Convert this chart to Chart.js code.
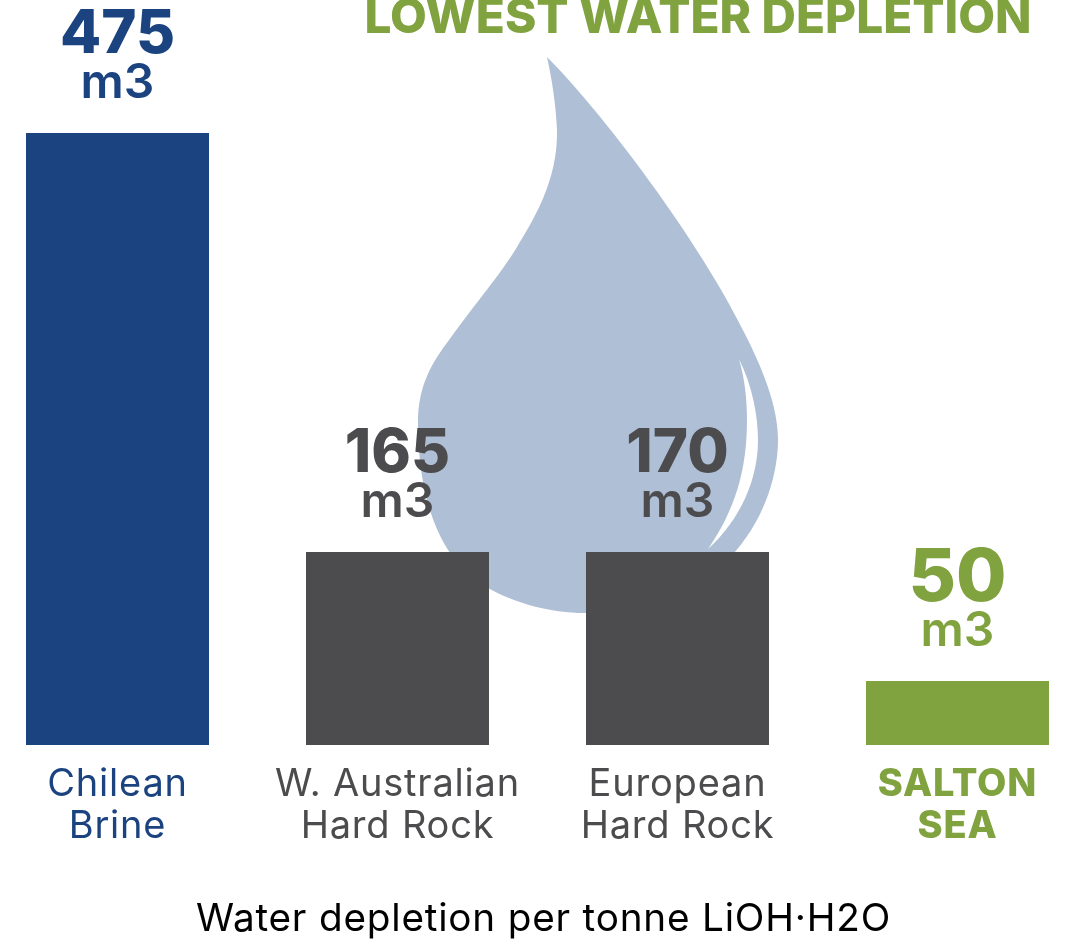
<!DOCTYPE html>
<html>
<head>
<meta charset="utf-8">
<title>Water depletion</title>
<script src="https://cdn.jsdelivr.net/npm/chart.js@4/dist/chart.umd.min.js"></script>
<style>
    html, body { margin: 0; padding: 0; background: #fff; overflow: hidden; }
    canvas { display: block; }
</style>
</head>
<body>
<canvas id="waterChart" width="1075" height="949"></canvas>
<script>
const categories = [['Chilean', 'Brine'], ['W. Australian', 'Hard Rock'], ['European', 'Hard Rock'], ['SALTON', 'SEA']];
// bar heights as drawn in the picture (the two hard rock bars are shorter than their printed values)
const barValues = [475, 149.8, 149.8, 49.7];
const printedValues = ['475', '165', '170', '50'];
const unit = 'm3';
const barColors = ['#1b4380', '#4c4c4e', '#4c4c4e', '#80a23f'];
const headline = 'LOWEST WATER DEPLETION';
const axisLabel = 'Water depletion per tonne LiOH\u00b7H2O';

const fontName = 'Inter, "Open Sans", sans-serif';

// Water drop behind the bars
const dropPlugin = {
    id: 'drop',
    beforeDatasetsDraw(chart) {
        const c = chart.ctx;
        c.save();
        c.fillStyle = '#afbfd5';
        c.beginPath();
        c.moveTo(547, 57);
        c.bezierCurveTo(600, 110, 700, 240, 748, 340);
        c.bezierCurveTo(770, 385, 778, 415, 778, 440);
        c.bezierCurveTo(778, 505, 730, 613, 585, 613);
        c.bezierCurveTo(550, 613, 515, 603, 488, 588);
        c.bezierCurveTo(436, 560, 418, 490, 418, 423);
        c.bezierCurveTo(418, 385, 432, 363, 449, 340);
        c.bezierCurveTo(478, 300, 500, 275, 517, 247);
        c.bezierCurveTo(534, 219, 558, 180, 557, 130);
        c.bezierCurveTo(556, 105, 552, 80, 547, 57);
        c.fill();
        // highlight
        c.fillStyle = '#fff';
        c.beginPath();
        c.moveTo(739, 359);
        c.bezierCurveTo(752, 385, 758, 415, 758, 440);
        c.bezierCurveTo(758, 480, 740, 520, 708, 549);
        c.bezierCurveTo(735, 510, 747, 470, 747, 420);
        c.bezierCurveTo(747, 400, 745, 380, 739, 359);
        c.fill();
        c.restore();
    }
};

// Value + unit above each bar, headline on top, axis label at the bottom
const labelPlugin = {
    id: 'labels',
    beforeDraw(chart) {
        // wider tracking for the axis text, the installed fonts run narrow here
        chart.ctx.letterSpacing = '0.8px';
    },
    afterDatasetsDraw(chart) {
        const c = chart.ctx;
        const bars = chart.getDatasetMeta(0).data;
        c.save();
        c.textAlign = 'center';
        c.textBaseline = 'alphabetic';
        c.fillStyle = '#000';
        c.font = '400 38.7px ' + fontName;
        c.fillText(axisLabel, 543.5, 931);
        c.letterSpacing = '0px';
        bars.forEach((bar, i) => {
            c.fillStyle = barColors[i];
            c.font = '800 ' + (i === 3 ? 73 : 60) + 'px ' + fontName;
            c.fillText(printedValues[i], bar.x, bar.y - 80);
            c.font = '600 48px ' + fontName;
            c.fillText(unit, bar.x, bar.y - 35);
        });
        c.fillStyle = barColors[3];
        c.font = '800 47.7px ' + fontName;
        c.fillText(headline, 698, 33);
        c.restore();
    }
};

const ctx = document.getElementById('waterChart').getContext('2d');

const waterChart = new Chart(ctx, {
    type: 'bar',
    data: {
        labels: categories,
        datasets: [{
            data: barValues,
            backgroundColor: barColors,
            barPercentage: 183 / 280,
            categoryPercentage: 1,
            clip: false
        }]
    },
    options: {
        responsive: false,
        animation: false,
        layout: { padding: { top: 133, left: 117.5, right: 117.5, bottom: 0 } },
        plugins: { legend: { display: false }, tooltip: { enabled: false } },
        scales: {
            x: {
                offset: false,
                grid: { display: false },
                border: { display: false },
                afterFit(scale) { scale.height = 204; },
                ticks: {
                    autoSkip: false,
                    maxRotation: 0,
                    padding: 11,
                    color: (c) => barColors[c.index],
                    font: (c) => ({
                        family: fontName,
                        size: 38,
                        lineHeight: 42 / 38,
                        weight: c.index === 3 ? '800' : '400'
                    })
                }
            },
            y: {
                display: false,
                min: 0,
                max: 475
            }
        }
    },
    plugins: [dropPlugin, labelPlugin]
});
</script>
</body>
</html>
